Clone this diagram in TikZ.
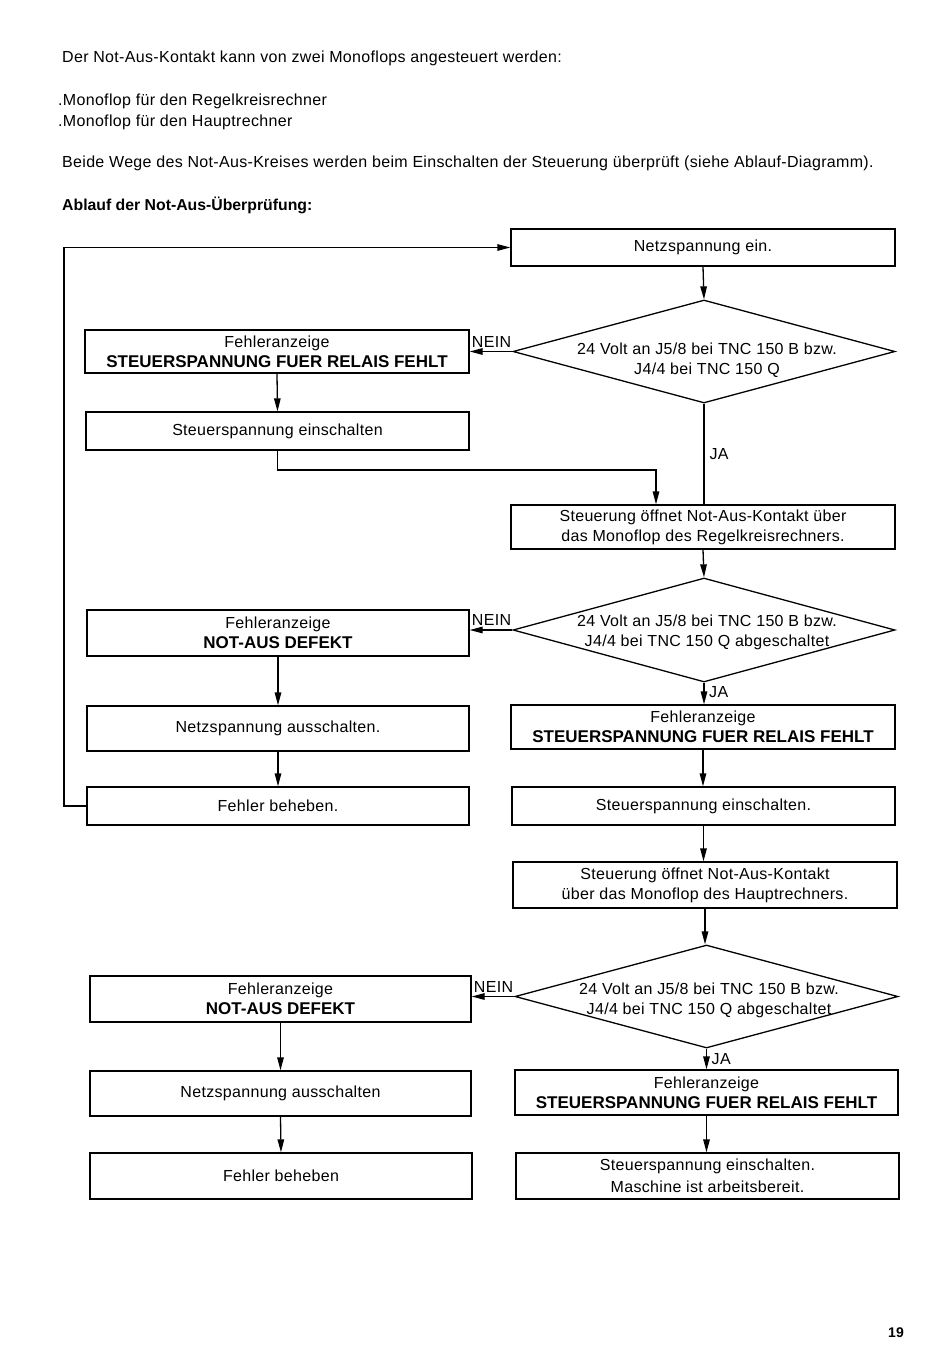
\documentclass[tikz,border=0pt]{standalone}
\usepackage{fontspec}
\setmainfont{Liberation Sans}[LetterSpace=2.0]
\newfontfamily\plainsans{Liberation Sans}
\usetikzlibrary{arrows.meta,shapes.geometric}
\newcommand{\bodyf}{\fontsize{16}{20}\selectfont}
\newcommand{\boldl}[1]{{\plainsans\bfseries\fontsize{17}{20}\selectfont #1}}
\begin{document}
\begin{tikzpicture}[x=1pt,y=-1pt,
  box/.style={draw, line width=1.3pt, inner sep=0pt, align=center, font=\bodyf, minimum width=383pt},
  dia/.style={draw, diamond, line width=1.3pt, inner sep=0pt, minimum width=382pt, minimum height=103pt},
  dtext/.style={align=center, font=\bodyf, inner sep=0pt},
  conn/.style={line width=1.3pt},
  arr/.style={line width=1.3pt, -{Triangle[length=13pt,width=6.5pt]}},
  lab/.style={font=\bodyf, inner sep=0pt},
  head/.style={anchor=base west, inner sep=0pt, font=\bodyf}
]
\useasboundingbox[fill=white] (0,0) rectangle (950,1352);

% header text
\node[head] (t1) at (62,62) {Der Not-Aus-Kontakt kann von zwei Monoflops angesteuert werden:};
\node[head] (t2) at (58,105) {.Monoflop für den Regelkreisrechner};
\node[head] (t3) at (58,126) {.Monoflop für den Hauptrechner};
\node[head] (t4) at (62,167) {Beide Wege des Not-Aus-Kreises werden beim Einschalten der Steuerung überprüft (siehe Ablauf-Diagramm).};
\node[head, font=\plainsans\bfseries\fontsize{15.8}{18}\selectfont] (t5) at (62,210) {Ablauf der Not-Aus-Überprüfung:};
\node[anchor=base east, inner sep=0pt, font=\plainsans\bfseries\fontsize{14}{16}\selectfont] (pg) at (904,1337) {19};

% boxes
\node[box, minimum width=384pt, minimum height=37pt] (b1) at (703,247.5) {Netzspannung ein.};
\node[box, minimum width=384pt, minimum height=43pt] (b2) at (277,351.5) {Fehleranzeige\\\boldl{STEUERSPANNUNG FUER RELAIS FEHLT}};
\node[box, minimum height=38pt] (b3) at (277.5,431) {Steuerspannung einschalten};
\node[box, minimum width=384pt, minimum height=44pt] (b4) at (703,527) {Steuerung öffnet Not-Aus-Kontakt über\\das Monoflop des Regelkreisrechners.};
\node[box, minimum width=382pt, minimum height=46pt] (b5) at (278,633) {Fehleranzeige\\\boldl{NOT-AUS DEFEKT}};
\node[box, minimum width=382pt, minimum height=45pt] (b6) at (278,728.5) {Netzspannung ausschalten.};
\node[box, minimum width=382pt, minimum height=38pt] (b7) at (278,806) {Fehler beheben.};
\node[box, minimum width=384pt, minimum height=44pt] (b8) at (703,727) {Fehleranzeige\\\boldl{STEUERSPANNUNG FUER RELAIS FEHLT}};
\node[box, minimum height=38pt] (b9) at (703.5,806) {Steuerspannung einschalten.};
\node[box, minimum width=384pt, minimum height=46pt] (b10) at (705,885) {Steuerung öffnet Not-Aus-Kontakt\\über das Monoflop des Hauptrechners.};
\node[box, minimum width=381pt, minimum height=46pt] (b11) at (280.5,999) {Fehleranzeige\\\boldl{NOT-AUS DEFEKT}};
\node[box, minimum width=381pt, minimum height=45pt] (b12) at (280.5,1093.5) {Netzspannung ausschalten};
\node[box, minimum width=382pt, minimum height=46pt] (b13) at (281,1176) {Fehler beheben};
\node[box, minimum height=45pt] (b14) at (706.5,1092.5) {Fehleranzeige\\\boldl{STEUERSPANNUNG FUER RELAIS FEHLT}};
\node[box, minimum height=46pt, font=\fontsize{16}{22}\selectfont] (b15) at (707.5,1176) {Steuerspannung einschalten.\\Maschine ist arbeitsbereit.};

% diamonds
\node[dia] (d1) at (704,351.5) {};
\node[dtext] (d1t) at (707,360) {24 Volt an J5/8 bei TNC 150 B bzw.\\J4/4 bei TNC 150 Q};
\node[dia, minimum height=104pt] (d2) at (704,630) {};
\node[dtext] (d2t) at (707,632) {24 Volt an J5/8 bei TNC 150 B bzw.\\J4/4 bei TNC 150 Q abgeschaltet};
\node[dia, minimum width=383pt] (d3) at (706.5,996.5) {};
\node[dtext] (d3t) at (709,1000) {24 Volt an J5/8 bei TNC 150 B bzw.\\J4/4 bei TNC 150 Q abgeschaltet};

% connectors
\draw[arr] (b1.south) -- (d1.north);
\draw[arr] (d1.west) -- (d1.west -| b2.east);
\node[lab, anchor=base east] (n1) at ([xshift=-1pt,yshift=4.5pt]d1.west) {NEIN};
\draw[arr] (b2.south) -- (b3.north);
\coordinate (c1) at (656,470);
\draw[arr] (b3.south) |- (c1) -- (c1 |- b4.north);
\draw[conn] (d1.south) -- node[lab, right=5pt] (ja1) {JA} (d1.south |- b4.north);
\draw[arr] (b4.south) -- (d2.north);
\draw[arr] (d2.west) -- (d2.west -| b5.east);
\node[lab, anchor=base east] (n2) at ([xshift=-1pt,yshift=4.5pt]d2.west) {NEIN};
\draw[arr] (b5.south) -- (b6.north);
\draw[arr] (b6.south) -- (b7.north);
\coordinate (c2) at (64,806);
\draw[arr] (b7.west) -- (c2) |- (b1.west);
\draw[arr] (d2.south) -- (d2.south |- b8.north);
\node[lab, anchor=west] (ja2) at ([xshift=5pt,yshift=-9pt]d2.south) {JA};
\draw[arr] (b8.south) -- (b8.south |- b9.north);
\draw[arr] (b9.south) -- (b9.south |- b10.north);
\draw[arr] (b10.south) -- (b10.south |- d3.north);
\draw[arr] (d3.west) -- (d3.west -| b11.east);
\node[lab, anchor=base east] (n3) at ([xshift=-1pt,yshift=4.5pt]d3.west) {NEIN};
\draw[arr] (b11.south) -- (b12.north);
\draw[arr] (b12.south) -- (b13.north);
\draw[arr] (d3.south) -- (d3.south |- b14.north);
\node[lab, anchor=west] (ja3) at ([xshift=5pt,yshift=-10pt]d3.south) {JA};
\draw[arr] (b14.south) -- (b14.south |- b15.north);
\end{tikzpicture}
\end{document}
